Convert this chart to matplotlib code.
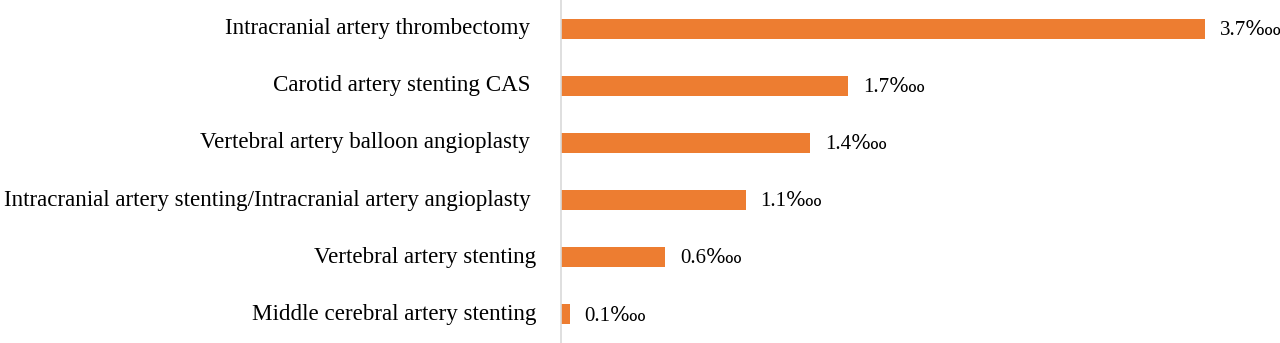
import matplotlib.pyplot as plt

procedures = [
    "Intracranial artery thrombectomy ",
    "Carotid artery stenting CAS ",
    "Vertebral artery balloon angioplasty ",
    "Intracranial artery stenting/Intracranial artery angioplasty ",
    "Vertebral artery stenting",
    "Middle cerebral artery stenting",
]
rates = [3.70, 1.65, 1.43, 1.06, 0.60, 0.05]
rate_labels = ["3.7\u2031", "1.7\u2031", "1.4\u2031", "1.1\u2031", "0.6\u2031", "0.1\u2031"]

plt.rcParams['font.family'] = ['Liberation Serif', 'DejaVu Serif']

fig = plt.figure(figsize=(12.8, 3.43), dpi=100)
ax = fig.add_axes([561 / 1280, 0, 1 - 561 / 1280, 1])

y = list(range(len(procedures)))
ax.barh(y, rates, height=0.35, color="#ED7D31")
for yi, r, lab in zip(y, rates, rate_labels):
    ax.text(r + 0.085, yi + 0.03, lab, va="center", ha="left", fontsize=15)

ax.set_yticks(y)
ax.set_yticklabels(procedures, fontsize=16.6, va="center")
ax.tick_params(axis="y", length=0, pad=18)
ax.set_xticks([])
ax.set_xlim(0, 4.13)
ax.set_ylim(len(procedures) - 0.5, -0.5)

for s in ["top", "right", "bottom"]:
    ax.spines[s].set_visible(False)
ax.spines["left"].set_color("#D9D9D9")
ax.spines["left"].set_linewidth(1.2)

fig.savefig("out.png", dpi=100)
